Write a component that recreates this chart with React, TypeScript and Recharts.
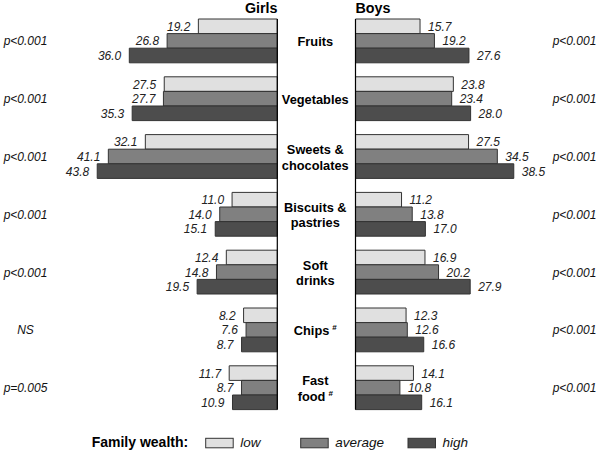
import React from 'react';
import { BarChart, Bar, XAxis, YAxis, LabelList } from 'recharts';

const categories = [
  'Fruits',
  'Vegetables',
  'Sweets & chocolates',
  'Biscuits & pastries',
  'Soft drinks',
  'Chips',
  'Fast food',
];
// label lines shown in the middle column, '#' marks a footnote
const categoryLines = [
  ['Fruits'],
  ['Vegetables'],
  ['Sweets &', 'chocolates'],
  ['Biscuits &', 'pastries'],
  ['Soft', 'drinks'],
  ['Chips#'],
  ['Fast', 'food#'],
];

const girlsLow = [19.2, 27.5, 32.1, 11.0, 12.4, 8.2, 11.7];
const girlsAverage = [26.8, 27.7, 41.1, 14.0, 14.8, 7.6, 8.7];
const girlsHigh = [36.0, 35.3, 43.8, 15.1, 19.5, 8.7, 10.9];

const boysLow = [15.7, 23.8, 27.5, 11.2, 16.9, 12.3, 14.1];
const boysAverage = [19.2, 23.4, 34.5, 13.8, 20.2, 12.6, 10.8];
const boysHigh = [27.6, 28.0, 38.5, 17.0, 27.9, 16.6, 16.1];

const girlsP = ['p<0.001', 'p<0.001', 'p<0.001', 'p<0.001', 'p<0.001', 'NS', 'p=0.005'];
const boysP = ['p<0.001', 'p<0.001', 'p<0.001', 'p<0.001', 'p<0.001', 'p<0.001', 'p<0.001'];

const wealthLevels = ['low', 'average', 'high'];

const COLORS = { low: '#e0e0e0', average: '#808080', high: '#4d4d4d' };
const FONT = '"Liberation Sans", Arial, Helvetica, sans-serif';
const BAR_SIZE = 14.6;

const data = categories.map((category, i) => ({
  category,
  gLow: girlsLow[i],
  gAvg: girlsAverage[i],
  gHigh: girlsHigh[i],
  bLow: boysLow[i],
  bAvg: boysAverage[i],
  bHigh: boysHigh[i],
}));

function CategoryText({ cx, cy, lines }: { cx: number; cy: number; lines: string[] }) {
  const ys = lines.length === 1 ? [cy + 5] : [cy - 2.5, cy + 13];
  return (
    <g>
      {lines.map((line, k) => {
        const foot = line.endsWith('#');
        const txt = foot ? line.slice(0, -1) : line;
        return (
          <text
            key={k}
            x={cx}
            y={ys[k]}
            textAnchor="middle"
            fontFamily={FONT}
            fontWeight="bold"
            fontSize={12.8}
            fill="#000"
          >
            {txt}
            {foot && (
              <tspan dx={3} dy={-5} fontSize={8}>
                #
              </tspan>
            )}
          </text>
        );
      })}
    </g>
  );
}

function GirlsTick(props: any) {
  const { x, y, payload } = props;
  const i = categories.indexOf(payload.value);
  return (
    <g>
      <CategoryText cx={x + 38} cy={y} lines={categoryLines[i]} />
      <text x={25.5} y={y + 4.5} textAnchor="middle" fontFamily={FONT} fontStyle="italic" fontSize={12} fill="#111">
        {girlsP[i]}
      </text>
    </g>
  );
}

function BoysTick(props: any) {
  const { y, payload } = props;
  const i = categories.indexOf(payload.value);
  return (
    <text x={574.5} y={y + 4.5} textAnchor="middle" fontFamily={FONT} fontStyle="italic" fontSize={12} fill="#111">
      {boysP[i]}
    </text>
  );
}

function girlsLabel(props: any) {
  const { x, y, width, height, value } = props;
  const left = Math.min(x, x + width);
  return (
    <text x={left - 8} y={y + height / 2 + 4.5} textAnchor="end" fontFamily={FONT} fontStyle="italic" fontSize={12} fill="#222">
      {Number(value).toFixed(1)}
    </text>
  );
}

function boysLabel(props: any) {
  const { x, y, width, height, value } = props;
  const right = Math.max(x, x + width);
  return (
    <text x={right + 8} y={y + height / 2 + 4.5} textAnchor="start" fontFamily={FONT} fontStyle="italic" fontSize={12} fill="#222">
      {Number(value).toFixed(1)}
    </text>
  );
}

export default function App() {
  const legendX = [205.7, 300.7, 408];
  // axis line spans the bars only; band range is widened with negative padding
  const vMargin = { top: 19, bottom: 41.4 };
  const axisPad = { top: -7, bottom: -7 };

  return (
    <div style={{ position: 'absolute', left: 0, top: 0, width: 600, height: 451, background: '#fff', overflow: 'hidden' }}>
      {/* Girls, bars grow to the left */}
      <div style={{ position: 'absolute', left: 0, top: 0 }}>
        <BarChart width={600} height={451} data={data} layout="vertical" barGap={0} margin={{ ...vMargin, left: 92.3, right: 321.7 }}>
          <XAxis type="number" domain={[0, 45]} reversed hide />
          <YAxis
            type="category"
            dataKey="category"
            orientation="right"
            width={1}
            padding={axisPad}
            tickLine={false}
            tickSize={0}
            tickMargin={0}
            interval={0}
            axisLine={{ stroke: '#000', strokeWidth: 1.2 }}
            tick={<GirlsTick />}
          />
          <Bar dataKey="gLow" fill={COLORS.low} stroke="#333" barSize={BAR_SIZE} isAnimationActive={false}>
            <LabelList dataKey="gLow" content={girlsLabel} />
          </Bar>
          <Bar dataKey="gAvg" fill={COLORS.average} stroke="#333" barSize={BAR_SIZE} isAnimationActive={false}>
            <LabelList dataKey="gAvg" content={girlsLabel} />
          </Bar>
          <Bar dataKey="gHigh" fill={COLORS.high} stroke="#333" barSize={BAR_SIZE} isAnimationActive={false}>
            <LabelList dataKey="gHigh" content={girlsLabel} />
          </Bar>
        </BarChart>
      </div>

      {/* Boys, bars grow to the right */}
      <div style={{ position: 'absolute', left: 0, top: 0 }}>
        <BarChart width={600} height={451} data={data} layout="vertical" barGap={0} margin={{ ...vMargin, left: 354.5, right: 59.5 }}>
          <XAxis type="number" domain={[0, 45]} hide />
          <YAxis
            type="category"
            dataKey="category"
            orientation="left"
            width={1}
            padding={axisPad}
            tickLine={false}
            tickSize={0}
            tickMargin={0}
            interval={0}
            axisLine={{ stroke: '#000', strokeWidth: 1.2 }}
            tick={<BoysTick />}
          />
          <Bar dataKey="bLow" fill={COLORS.low} stroke="#333" barSize={BAR_SIZE} isAnimationActive={false}>
            <LabelList dataKey="bLow" content={boysLabel} />
          </Bar>
          <Bar dataKey="bAvg" fill={COLORS.average} stroke="#333" barSize={BAR_SIZE} isAnimationActive={false}>
            <LabelList dataKey="bAvg" content={boysLabel} />
          </Bar>
          <Bar dataKey="bHigh" fill={COLORS.high} stroke="#333" barSize={BAR_SIZE} isAnimationActive={false}>
            <LabelList dataKey="bHigh" content={boysLabel} />
          </Bar>
        </BarChart>
      </div>

      {/* titles and legend */}
      <svg width={600} height={451} style={{ position: 'absolute', left: 0, top: 0, pointerEvents: 'none' }}>
        <text x={277.5} y={12.5} textAnchor="end" fontFamily={FONT} fontWeight="bold" fontSize={14.3}>
          Girls
        </text>
        <text x={355.5} y={12.5} textAnchor="start" fontFamily={FONT} fontWeight="bold" fontSize={14.3}>
          Boys
        </text>
        <text x={91.7} y={447} fontFamily={FONT} fontWeight="bold" fontSize={14}>
          Family wealth:
        </text>
        {wealthLevels.map((w, k) => (
          <g key={w}>
            <rect x={legendX[k]} y={438.3} width={27.5} height={9.5} fill={COLORS[w as keyof typeof COLORS]} stroke="#333" />
            <text x={legendX[k] + 34.5} y={447} fontFamily={FONT} fontStyle="italic" fontSize={13.5} fill="#111">
              {w}
            </text>
          </g>
        ))}
      </svg>
    </div>
  );
}
